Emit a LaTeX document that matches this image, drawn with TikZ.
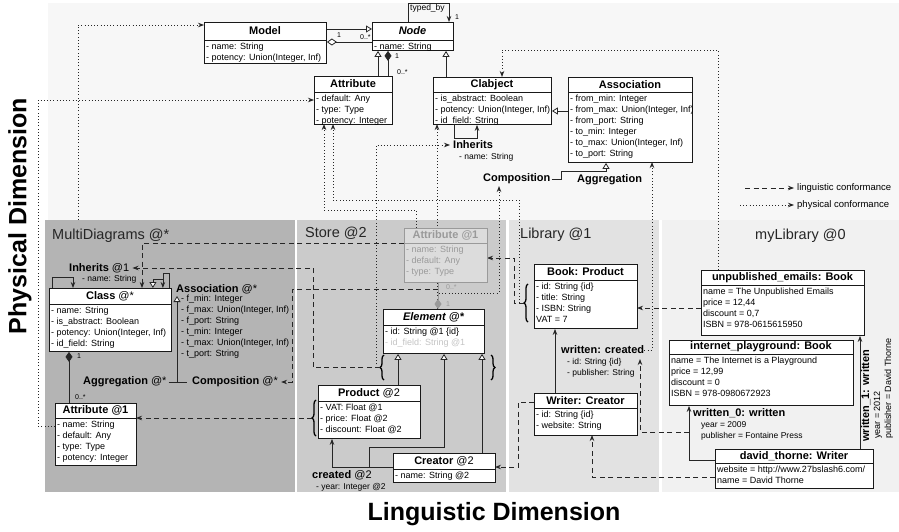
\documentclass[tikz,border=0pt]{standalone}
\usepackage{fontspec}
\setmainfont{Liberation Sans}
\usetikzlibrary{arrows.meta,decorations.pathreplacing}
\definecolor{bgtop}{HTML}{F7F7F7}
\definecolor{cMulti}{HTML}{B4B4B4}
\definecolor{cStore}{HTML}{CBCBCB}
\definecolor{cLib}{HTML}{E2E2E2}
\definecolor{cMy}{HTML}{F1F1F1}
\definecolor{ghost}{HTML}{9A9A9A}
\definecolor{ghostfill}{HTML}{DCDCDC}
\definecolor{idgray}{HTML}{C4C4C4}
\newcommand\UBox[8]{%
  \node[ubox, minimum width=#4pt, minimum height=#5pt, anchor=north west] (#1) at (#2,#3) {};
  \draw[boxln] (#2,#3+#6) -- (#2+#4,#3+#6);
  \node[uhead] (#1-h) at (#2+#4/2,#3+#6/2) {#7};
  \node[uattr, anchor=north west] (#1-a) at (#2,#3+#6) {#8};
}
\begin{document}
\begin{tikzpicture}[x=1pt,y=-1pt,
  ln/.style={draw=black!85, line width=0.8pt},
  ubox/.style={draw=black!90, line width=0.9pt, fill=white, inner sep=0pt},
  boxln/.style={draw=black!90, line width=0.9pt},
  uhead/.style={font=\fontsize{11}{13}\selectfont\bfseries, inner sep=0pt},
  uattr/.style={font=\fontsize{9}{11}\selectfont, align=left, inner xsep=2pt, inner ysep=2.5pt},
  lbl/.style={font=\fontsize{11}{13}\selectfont\bfseries, inner sep=0pt, anchor=west},
  smalltxt/.style={font=\fontsize{8.5}{11}\selectfont, inner sep=0pt, anchor=west},
  multl/.style={font=\fontsize{7}{8}\selectfont, inner sep=0pt, anchor=west},
  ptitle/.style={font=\fontsize{14.5}{16}\selectfont, inner sep=0pt, anchor=west, text=black!85},
  bigtxt/.style={font=\fontsize{25}{28}\selectfont\bfseries, inner sep=0pt},
  legt/.style={font=\fontsize{9.5}{11}\selectfont, inner sep=0pt, anchor=west},
  toarrow/.style={-{Stealth[length=6pt,width=4.5pt]}},
  inh/.style={-{Triangle[open,fill=white,length=6pt,width=7pt]}},
  ling/.style={draw=black!85, line width=0.8pt, dash pattern=on 5pt off 3.5pt, -{Stealth[length=6pt,width=4.5pt]}},
  phys/.style={draw=black!85, line width=0.9pt, dash pattern=on 0.9pt off 2.3pt, -{Stealth[length=6pt,width=4.5pt]}},
  bracebr/.style={draw=black, line width=1.3pt, decorate, decoration={brace, amplitude=4pt}}
]
\useasboundingbox (0,0) rectangle (899,532);
\fill[white] (0,0) rectangle (899,532);
% backgrounds
\fill[bgtop] (48,3) rectangle (899,220);
\fill[cMulti] (45,220) rectangle (295,492);
\fill[cStore] (297,220) rectangle (506,492);
\fill[cLib] (509,220) rectangle (659,492);
\fill[cMy] (662,220) rectangle (899,492);
% titles
\node[ptitle] (tMulti) at (52,236) {MultiDiagrams @*};
\node[ptitle] (tStore) at (305,233) {Store @2};
\node[ptitle] (tLib) at (520,235) {Library @1};
\node[ptitle] (tMy) at (755,236) {myLibrary @0};
\node[bigtxt, rotate=90] (phd) at (20,216) {Physical Dimension};
\node[bigtxt] (lgd) at (494,514) {Linguistic Dimension};

% labels (needed as anchors)
\node[lbl] (inhT) at (453,145) {Inherits};
\node[smalltxt] (inhTa) at (459,157) {- name: String};
\node[lbl] (compT) at (483,179) {Composition};
\node[lbl] (aggT) at (577,180) {Aggregation};
\node[lbl] (inhM) at (69,268) {Inherits {\mdseries @1}};
\node[smalltxt] (inhMa) at (82,279) {- name: String};
\node[lbl] (assocM) at (176,289) {Association {\mdseries @*}};
\node[uattr, anchor=north west, inner xsep=0pt] (assocMa) at (181,292) {- f\_min: Integer\\- f\_max: Union(Integer, Inf)\\- f\_port: String\\- t\_min: Integer\\- t\_max: Union(Integer, Inf)\\- t\_port: String};
\node[lbl] (aggM) at (83,382) {Aggregation {\mdseries @*}};
\node[lbl] (compM) at (192,382) {Composition {\mdseries @*}};
\node[lbl] (createdL) at (312,475) {created {\mdseries @2}};
\node[smalltxt] (createdLa) at (316,487) {- year: Integer @2};
\node[lbl] (wcL) at (561,350) {written: created};
\node[smalltxt] (wcLa) at (567,362) {- id: String \{id\}};
\node[smalltxt] (wcLb) at (567,373) {- publisher: String};
\node[lbl] (w0) at (693,413) {written\_0: written};
\node[smalltxt] (w0a) at (701,425) {year = 2009};
\node[smalltxt] (w0b) at (701,436) {publisher = Fontaine Press};
\node[rotate=90, anchor=north west, align=left, inner sep=0pt, font=\fontsize{9}{11}\selectfont] (w1) at (861,442) {{\fontsize{11}{11}\selectfont\bfseries written\_1: written}\\\hspace*{3pt}year = 2012\\\hspace*{3pt}publisher = David Thorne};

% braces
\draw[bracebr] (384,380) -- (384,355);
\coordinate (bS1) at (380,367.5);
\draw[bracebr] (491,355) -- (491,380);
\draw[bracebr] (316,436) -- (316,400);
\coordinate (bP) at (312,418);
\draw[bracebr] (528,322) -- (528,284);
\coordinate (bB) at (524,303);

% legend
\node[legt] (lg1) at (797,188) {linguistic conformance};
\node[legt] (lg2) at (797,205) {physical conformance};
\draw[ling] ([xshift=-52pt]lg1.west) -- ([xshift=-3pt]lg1.west);
\draw[phys] ([xshift=-57pt]lg2.west) -- ([xshift=-3pt]lg2.west);

% physical conformance lines (drawn below boxes)
\coordinate (pM) at (78,220);
\draw[phys] (pM) |- (204,25);
\draw[phys] (55,426) -- (38,426) |- (314,100);
\draw[phys] (416,228) -- (416,210) -| (324,124);
\draw[phys] (519,303) -- (519,200) -| (333,124);
\draw[phys] (437,309) -- (437,124);
\draw[phys] (376,367.5) |- (450,145);
\coordinate (sc2) at (439,293);
\draw[phys] (sc2) -| (499,186);
\draw[phys] (wcL.east) -| (652,162);
\draw[phys] (718,270) -- (718,50) -| (502,77);

% linguistic conformance lines
\draw[ling] (404,243) -| (142,288);
\draw[ling] (bS1) -- (313,367.5) |- ([xshift=3pt]inhM.east);
\coordinate (sc) at (438,289);
\draw[ling] (sc) -| (292,382) -- ([xshift=3pt]compM.east);
\draw[ling] (bP) -- (136,418);
\draw[ling] (bB) -- (514,303) |- (487,258);
\draw[ling] (534,402) -- (518,402) |- (495,467);
\draw[ling] (701,308) -- (637,308);
\coordinate (w0j) at (689,432);
\draw[ling] (w0j) -| (640,359);
\draw[ling] (715,477) -| (592,435);

% boxes: top metamodel
\UBox{model}{204}{22}{122}{41}{18}{Model}{- name: String\\- potency: Union(Integer, Inf)}
\UBox{node}{372}{22}{81}{28}{18}{\itshape Node}{- name: String}
\UBox{attr}{314}{76}{78}{48}{16}{Attribute}{- default: Any\\- type: Type\\- potency: Integer}
\UBox{clab}{433}{77}{118}{47}{15}{Clabject}{- is\_abstract: Boolean\\- potency: Union(Integer, Inf)\\- id\_field: String}
\UBox{assoc}{568}{77}{124}{85}{15}{Association}{- from\_min: Integer\\- from\_max: Union(Integer, Inf)\\- from\_port: String\\- to\_min: Integer\\- to\_max: Union(Integer, Inf)\\- to\_port: String}
% MultiDiagrams
\UBox{cls}{49}{288}{122}{63}{16}{Class {\mdseries @*}}{- name: String\\- is\_abstract: Boolean\\- potency: Union(Integer, Inf)\\- id\_field: String}
\UBox{mattr}{55}{403}{81}{62}{15}{Attribute @1}{- name: String\\- default: Any\\- type: Type\\- potency: Integer}
% Store
\begin{scope}[ubox/.append style={fill=ghostfill,draw=ghost}, boxln/.append style={draw=ghost}, uhead/.append style={text=ghost}, uattr/.append style={text=ghost}]
\UBox{sattr}{404}{228}{83}{54}{15}{Attribute @1}{- name: String\\- default: Any\\- type: Type}
\end{scope}
\UBox{elem}{383}{309}{101}{44}{16}{\itshape Element @*}{- id: String @1 \{id\}\\\textcolor{idgray}{- id\_field: String @1}}
\UBox{prod}{318}{385}{102}{53}{16}{Product {\mdseries @2}}{- VAT: Float @1\\- price: Float @2\\- discount: Float @2}
\UBox{creator}{393}{453}{102}{29}{16}{Creator {\mdseries @2}}{- name: String @2}
% Library
\UBox{book}{534}{264}{103}{64}{16}{Book: Product}{- id: String \{id\}\\- title: String\\- ISBN: String\\VAT = 7}
\UBox{writer}{534}{393}{103}{42}{15}{Writer: Creator}{- id: String \{id\}\\- website: String}
% myLibrary
\UBox{ue}{701}{270}{163}{65}{15}{unpublished\_emails: Book}{name = The Unpublished Emails\\price = 12,44\\discount = 0,7\\ISBN = 978-0615615950}
\UBox{ip}{669}{340}{184}{65}{14}{internet\_playground: Book}{name = The Internet is a Playground\\price = 12,99\\discount = 0\\ISBN = 978-0980672923}
\UBox{dt}{715}{449}{158}{39}{14}{david\_thorne: Writer}{website = http://www.27bslash6.com/\\name = David Thorne}

% solid connectors: top
\draw[ln,inh] ([yshift=-7pt]model.north east) -- ([yshift=-7pt]node.north west);
\draw[ln,{Diamond[open,fill=white,length=10pt,width=7pt]}-] ([yshift=-20pt]model.north east) -- ([yshift=-20pt]node.north west);
\node[multl] (m1) at (337,35) {1};
\node[multl] (m2) at (360,37) {0..*};
\draw[ln,inh] ([xshift=64pt]attr.north west) -- ([xshift=6pt]node.south west);
\draw[ln,{Diamond[length=10pt,width=7pt]}-] ([xshift=16pt]node.south west) -- ([xshift=74pt]attr.north west);
\node[multl] (m3) at (395,56) {1};
\node[multl] (m4) at (397,72) {0..*};
\draw[ln,inh] ([xshift=13pt]clab.north west) -- ([xshift=74pt]node.south west);
\draw[ln,toarrow] ([xshift=36pt]node.north west) -- ++(0,-19) -| ([xshift=77pt]node.north west);
\node[font=\fontsize{8.5}{10}\selectfont, inner sep=0pt, anchor=west] (tb) at (410,8) {typed\_by};
\node[multl] (m5) at (455,17) {1};
\draw[ln,inh] ([yshift=-34pt]assoc.north west) -- ([yshift=-34pt]clab.north east);
\draw[ln,toarrow] ([xshift=21pt]clab.south west) -- ++(0,14) -| ([xshift=44pt]clab.south west);
\draw[ln,inh] ([xshift=1pt]compT.east) -- ++(10,0) -- ++(0,-8) -| ([xshift=38pt]assoc.south west);

% MultiDiagrams connectors
\draw[ln,toarrow] ([xshift=3pt]cls.north west) -- ++(0,-11) -| ([xshift=24pt]cls.north west);
\draw[ln,toarrow] ([xshift=-3pt]cls.north east) -- ++(0,-15) -| ([xshift=-9pt]cls.north east);
\draw[ln,inh] ([xshift=-9pt,yshift=9pt]cls.north east) -| ([xshift=-19pt]cls.north east);
\draw[ln,{Diamond[length=10pt,width=7pt]}-] ([xshift=20pt]cls.south west) -- ([xshift=14pt]mattr.north west);
\node[multl] (m6) at (77,356) {1};
\node[multl] (m7) at (75,397) {0..*};
\coordinate (jM) at (177,382);
\draw[ln] ([xshift=2pt]aggM.east) -- ([xshift=-5pt]compM.west);
\draw[ln,inh] (jM) -- (177,296);

% Store connectors
\draw[ln,inh] ([xshift=80pt]prod.north west) -- ([xshift=15pt]elem.south west);
\coordinate (cj) at (369,467);
\draw[ln,inh] (cj) -- ++(0,-20) -| ([xshift=61pt]elem.south west);
\draw[ln,inh] ([xshift=89pt]creator.north west) -- ([xshift=99pt]elem.south west);
\draw[ln,toarrow] ([yshift=-14pt]creator.north west) -| ([xshift=14pt]prod.south west);
\draw[draw=ghost, line width=0.8pt, {Diamond[length=10pt,width=7pt,fill=ghost]}-] ([xshift=55pt]elem.north west) -- ([xshift=34pt]sattr.south west);
\node[multl, text=ghost] (m8) at (446,287) {0..*};
\node[multl, text=ghost] (m9) at (446,304) {1};

% Library connectors
\draw[ln,toarrow] ([xshift=21pt]writer.north west) -- ([xshift=21pt]book.south west);

% myLibrary connectors
\draw[ln,toarrow] ([yshift=-11pt]dt.north west) -| ([xshift=20pt]ip.south west);
\draw[ln,toarrow] ([xshift=145pt]dt.north west) -- ([xshift=159pt]ue.south west);
\end{tikzpicture}
\end{document}
